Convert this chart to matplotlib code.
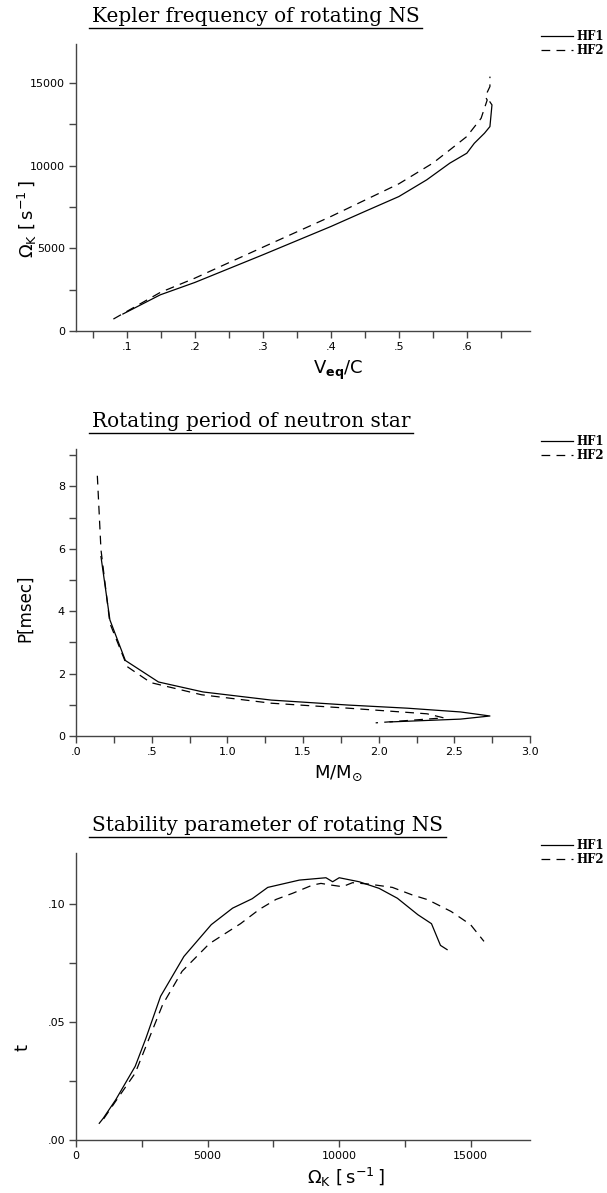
import matplotlib
matplotlib.use('Agg')
import matplotlib.pyplot as plt
from matplotlib.ticker import MultipleLocator, FuncFormatter

plt.rcParams['font.family'] = 'DejaVu Sans'
plt.rcParams['mathtext.fontset'] = 'dejavusans'

# Kepler frequency vs equatorial velocity
kep_hf1_v = [0.094, 0.149, 0.200, 0.300, 0.400, 0.450, 0.500, 0.541, 0.575, 0.600,
             0.611, 0.626, 0.634, 0.637, 0.634]
kep_hf1_om = [1030, 2190, 2940, 4610, 6320, 7230, 8130, 9140, 10150, 10750,
              11350, 11960, 12360, 13670, 13850]
kep_hf2_v = [0.080, 0.149, 0.200, 0.300, 0.400, 0.500, 0.550, 0.575, 0.600, 0.621,
             0.630, 0.627, 0.634, 0.634]
kep_hf2_om = [725, 2335, 3200, 5070, 6925, 8900, 10150, 10950, 11760, 12860,
              13970, 14170, 14780, 15380]

# Rotation period vs mass
per_hf1_m = [0.165, 0.224, 0.326, 0.545, 0.84, 1.29, 1.80, 2.19, 2.54, 2.735, 2.54, 2.075]
per_hf1_p = [5.75, 3.72, 2.42, 1.73, 1.41, 1.15, 0.99, 0.89, 0.77, 0.64, 0.54, 0.45]
per_hf2_m = [0.141, 0.165, 0.224, 0.339, 0.494, 0.83, 1.29, 1.80, 2.32, 2.43, 1.98]
per_hf2_p = [8.34, 5.97, 3.61, 2.22, 1.71, 1.32, 1.05, 0.89, 0.71, 0.58, 0.42]

# Stability parameter vs Kepler frequency
stab_hf1_om = [884, 1040, 1510, 2250, 2650, 3214, 4100, 5140, 5950, 6695, 7285, 8485,
               9497, 9750, 10000, 10758, 11515, 12210, 12990, 13506, 13847, 14099]
stab_hf1_t = [0.0071, 0.0093, 0.0171, 0.0313, 0.0430, 0.0610, 0.0779, 0.0914, 0.0984,
              0.1024, 0.1072, 0.1103, 0.1113, 0.1096, 0.1113, 0.1096, 0.1068, 0.1026,
              0.0956, 0.0918, 0.0826, 0.0808]
stab_hf2_om = [1050, 1510, 2250, 3290, 4030, 5065, 6250, 6970, 7600, 8230, 8990, 9306,
               9685, 10125, 10505, 11136, 12020, 12777, 13360, 14250, 14990, 15500]
stab_hf2_t = [0.0090, 0.0165, 0.0284, 0.0574, 0.0716, 0.0833, 0.0918, 0.0979, 0.1021,
              0.1047, 0.1082, 0.1089, 0.1082, 0.1075, 0.1092, 0.1086, 0.1072, 0.1040,
              0.1020, 0.0970, 0.0914, 0.0843]

titles = ['Kepler frequency of rotating NS',
          'Rotating period of neutron star',
          'Stability parameter of rotating NS']
series_names = ['HF1', 'HF2']


def strip_zero(v, pos, fmt):
    s = fmt.format(v)
    if s.startswith('0.'):
        s = s[1:]
    return s


fig = plt.figure(figsize=(6.07, 11.93), dpi=100)
ax1 = fig.add_axes([0.1252, 0.7225, 0.748, 0.2406])
ax2 = fig.add_axes([0.1252, 0.3831, 0.748, 0.2406])
ax3 = fig.add_axes([0.1252, 0.0444, 0.748, 0.2406])

dash = (7, 5)
for ax, (x1, y1, x2, y2) in zip(
        [ax1, ax2, ax3],
        [(kep_hf1_v, kep_hf1_om, kep_hf2_v, kep_hf2_om),
         (per_hf1_m, per_hf1_p, per_hf2_m, per_hf2_p),
         (stab_hf1_om, stab_hf1_t, stab_hf2_om, stab_hf2_t)]):
    l1, = ax.plot(x1, y1, color='black', lw=0.9)
    l2, = ax.plot(x2, y2, color='black', lw=0.9, linestyle=(0, dash))
    for s in ['top', 'right']:
        ax.spines[s].set_visible(False)
    for s in ['left', 'bottom']:
        ax.spines[s].set_color('#444444')
        ax.spines[s].set_linewidth(1.0)
    ax.tick_params(which='both', direction='out', length=5, width=1,
                   color='#444444', labelsize=8, pad=3)
    ax.legend([l1, l2], series_names, loc='upper left', bbox_to_anchor=(1.025, 1.048),
              frameon=False, prop=dict(family='DejaVu Serif', weight='bold', size=8.5),
              handlelength=2.7, handletextpad=0.25, labelspacing=0.05,
              borderpad=0, borderaxespad=0)

# panel 1
ax1.set_xlim(0.025, 0.693)
ax1.set_ylim(0, 17350)
ax1.xaxis.set_major_locator(MultipleLocator(0.1))
ax1.xaxis.set_minor_locator(MultipleLocator(0.05))
ax1.yaxis.set_major_locator(MultipleLocator(5000))
ax1.yaxis.set_minor_locator(MultipleLocator(2500))
ax1.xaxis.set_major_formatter(FuncFormatter(lambda v, p: strip_zero(v, p, '{:.1f}')))
ax1.set_xlabel(r'$\mathrm{V}_{\mathbf{eq}}/\mathrm{C}$', fontsize=13)
ax1.set_ylabel(r'$\Omega_{\mathrm{K}}\ [\,\mathrm{s}^{-1}\,]$', fontsize=13)

# panel 2
ax2.set_xlim(0, 3.0)
ax2.set_ylim(0, 9.2)
ax2.xaxis.set_major_locator(MultipleLocator(0.5))
ax2.xaxis.set_minor_locator(MultipleLocator(0.25))
ax2.yaxis.set_major_locator(MultipleLocator(2))
ax2.yaxis.set_minor_locator(MultipleLocator(1))
ax2.xaxis.set_major_formatter(FuncFormatter(lambda v, p: strip_zero(v, p, '{:.1f}')))
ax2.set_xlabel(r'$\mathrm{M}/\mathrm{M}_{\odot}$', fontsize=13)
ax2.set_ylabel('P[msec]', fontsize=12)

# panel 3
ax3.set_xlim(0, 17250)
ax3.set_ylim(0, 0.1218)
ax3.xaxis.set_major_locator(MultipleLocator(5000))
ax3.xaxis.set_minor_locator(MultipleLocator(2500))
ax3.yaxis.set_major_locator(MultipleLocator(0.05))
ax3.yaxis.set_minor_locator(MultipleLocator(0.025))
ax3.yaxis.set_major_formatter(FuncFormatter(lambda v, p: strip_zero(v, p, '{:.2f}')))
ax3.set_xlabel(r'$\Omega_{\mathrm{K}}\ [\,\mathrm{s}^{-1}\,]$', fontsize=13)
ax3.set_ylabel('t', fontsize=13)

# label placement (centres)
label_pos = [(ax1, (0.577, -0.136), (-0.108, 0.39)),
             (ax2, (0.577, -0.129), (-0.112, 0.444)),
             (ax3, (0.595, -0.132), (-0.117, 0.324))]
for ax, xpos, ypos in label_pos:
    ax.xaxis.label.set_va('center')
    ax.yaxis.label.set_va('center')
    ax.xaxis.set_label_coords(*xpos)
    ax.yaxis.set_label_coords(*ypos)

# underlined titles
title_objs = []
for ax, title in zip([ax1, ax2, ax3], titles):
    t = ax.text(0.035, 1.078, title, transform=ax.transAxes, ha='left', va='baseline',
                fontfamily='DejaVu Serif', fontsize=14.4)
    title_objs.append((ax, t))

fig.canvas.draw()
renderer = fig.canvas.get_renderer()
for ax, t in title_objs:
    bb = t.get_window_extent(renderer).transformed(ax.transAxes.inverted())
    ax.plot([bb.x0 - 0.006, bb.x1 + 0.006], [1.057, 1.057], transform=ax.transAxes,
            clip_on=False, color='black', lw=1.0)

fig.savefig('out.png', dpi=100)
